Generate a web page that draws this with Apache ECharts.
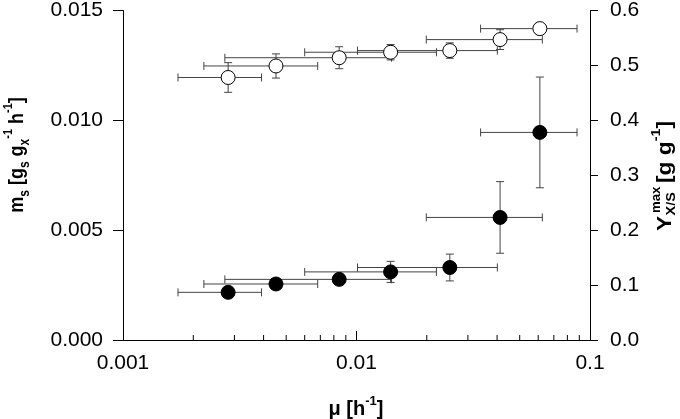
<!DOCTYPE html>
<html>
<head>
<meta charset="utf-8">
<script src="https://cdn.jsdelivr.net/npm/echarts@6/dist/echarts.min.js"></script>
<style>
  html, body { margin: 0; padding: 0; background: #fff; }
  #main { width: 680px; height: 419px; }
</style>
</head>
<body>
<div id="main"></div>
<script>
// growth rate mu [h-1] and its error (same for both series)
var mu    = [0.00282, 0.00452, 0.00843, 0.0140, 0.0251, 0.0412, 0.0610];
var muErr = [0.0011, 0.0023, 0.0057, 0.0080, 0.0150, 0.0213, 0.0270];
// maintenance coefficient m_s (left axis, filled circles)
var ms    = [0.00217, 0.00255, 0.00276, 0.00310, 0.00330, 0.00558, 0.00945];
var msErr = [0.00015, 0.00015, 0.00015, 0.00048, 0.00061, 0.00163, 0.00252];
// max yield Y_X/S (right axis, open circles)
var yxs    = [0.478, 0.499, 0.514, 0.524, 0.527, 0.547, 0.567];
var yxsErr = [0.027, 0.022, 0.020, 0.014, 0.014, 0.018, 0.005];
// minor ticks on the log axis
var minorTicks = [0.002, 0.003, 0.004, 0.005, 0.006, 0.007, 0.008, 0.009,
                  0.02, 0.03, 0.04, 0.05, 0.06, 0.07, 0.08, 0.09];

var FONT = '"Liberation Sans", Arial, sans-serif';
var BAR = '#444';

function errData(xs, xe, ys, ye) {
  return xs.map(function (x, i) { return [x, ys[i], xe[i], ye[i]]; });
}

function errItem(params, api) {
  var x = api.value(0), y = api.value(1), ex = api.value(2), ey = api.value(3);
  var c = api.coord([x, y]);
  var l = api.coord([x - ex, y]);
  var r = api.coord([x + ex, y]);
  var t = api.coord([x, y + ey]);
  var b = api.coord([x, y - ey]);
  var h = 4;
  var st = { stroke: BAR, lineWidth: 1 };
  function ln(x1, y1, x2, y2) {
    return { type: 'line', shape: { x1: x1, y1: y1, x2: x2, y2: y2 }, style: st };
  }
  return {
    type: 'group',
    children: [
      ln(l[0], c[1], r[0], c[1]),
      ln(l[0], c[1] - h, l[0], c[1] + h),
      ln(r[0], c[1] - h, r[0], c[1] + h),
      ln(c[0], t[1], c[0], b[1]),
      ln(c[0] - h, t[1], c[0] + h, t[1]),
      ln(c[0] - h, b[1], c[0] + h, b[1])
    ]
  };
}

var chart = echarts.init(document.getElementById('main'));

function rich(size) {
  return {
    b: { fontFamily: FONT, fontSize: size, fontWeight: 'bold', color: '#000', lineHeight: size + 8, verticalAlign: 'middle' },
    sub: { fontFamily: FONT, fontSize: size - 6, fontWeight: 'bold', color: '#000', lineHeight: size - 4, verticalAlign: 'bottom' },
    sup: { fontFamily: FONT, fontSize: size - 7, fontWeight: 'bold', color: '#000', lineHeight: size - 4, verticalAlign: 'top' }
  };
}

chart.setOption({
  animation: false,
  grid: { left: 123, right: 90, top: 10, bottom: 79 },
  xAxis: {
    type: 'log',
    logBase: 10,
    min: 0.001,
    max: 0.1,
    axisLine: { lineStyle: { color: '#000', width: 1 } },
    axisTick: { inside: true, length: 9, lineStyle: { color: '#000' } },
    axisLabel: {
      margin: 13, color: '#000', fontFamily: FONT, fontSize: 21,
      formatter: function (v) { return String(+v.toPrecision(1)); }
    },
    splitLine: { show: false }
  },
  yAxis: [
    {
      type: 'value', min: 0, max: 0.015, interval: 0.005,
      axisLine: { show: true, lineStyle: { color: '#000', width: 1 } },
      axisTick: { show: true, length: 10, lineStyle: { color: '#000' } },
      axisLabel: {
        margin: 20, color: '#000', fontFamily: FONT, fontSize: 21,
        formatter: function (v) { return v.toFixed(3); }
      },
      splitLine: { show: false }
    },
    {
      type: 'value', min: 0, max: 0.6, interval: 0.1, position: 'right',
      axisLine: { show: true, lineStyle: { color: '#000', width: 1 } },
      axisTick: { show: true, length: 8, lineStyle: { color: '#000' } },
      axisLabel: {
        margin: 20, color: '#000', fontFamily: FONT, fontSize: 21,
        formatter: function (v) { return v.toFixed(1); }
      },
      splitLine: { show: false }
    }
  ],
  graphic: [
    {
      type: 'text', x: 17, y: 155, rotation: Math.PI / 2, scaleY: 1.15,
      style: {
        text: '{b|m}{sub|s}{b| [g}{sub|s}{b| g}{sub|x}{sup|-1}{b| h}{sup|-1}{b|]}',
        rich: rich(18), align: 'center', verticalAlign: 'middle'
      }
    },
    {
      type: 'text', x: 356, y: 409,
      style: {
        text: '{b|\u03bc [h}{sup|-1}{b|]}',
        rich: rich(20), align: 'center', verticalAlign: 'middle'
      }
    },
    {
      type: 'group', x: 665, y: 231, rotation: Math.PI / 2, scaleX: 1.2, scaleY: 1.1,
      children: [
        { type: 'text', x: 0, y: 0,
          style: { text: 'Y', font: 'bold 19px ' + FONT, fill: '#000', align: 'left', verticalAlign: 'middle' } },
        { type: 'text', x: 15, y: -8,
          style: { text: 'max', font: 'bold 11px ' + FONT, fill: '#000', align: 'left', verticalAlign: 'middle' } },
        { type: 'text', x: 13, y: 6,
          style: { text: 'X/S', font: 'bold 12px ' + FONT, fill: '#000', align: 'left', verticalAlign: 'middle' } },
        { type: 'text', x: 40, y: 0,
          style: { text: '{b|[g g}{sup|-1}{b|]}', rich: rich(19), align: 'left', verticalAlign: 'middle' } }
      ]
    }
  ],
  series: [
    {
      type: 'custom', name: 'minor', coordinateSystem: 'cartesian2d',
      xAxisIndex: 0, yAxisIndex: 0,
      data: minorTicks.map(function (v) { return [v, 0]; }),
      encode: { x: 0, y: 1 },
      renderItem: function (params, api) {
        var p = api.coord([api.value(0), api.value(1)]);
        return { type: 'line', shape: { x1: p[0], y1: p[1], x2: p[0], y2: p[1] - 5 },
                 style: { stroke: '#000', lineWidth: 1 } };
      },
      silent: true, z: 1
    },
    {
      type: 'custom', name: 'msErr', yAxisIndex: 0,
      data: errData(mu, muErr, ms, msErr),
      encode: { x: 0, y: 1 },
      renderItem: errItem, silent: true, z: 2
    },
    {
      type: 'custom', name: 'yErr', yAxisIndex: 1,
      data: errData(mu, muErr, yxs, yxsErr),
      encode: { x: 0, y: 1 },
      renderItem: errItem, silent: true, z: 2
    },
    {
      type: 'scatter', name: 'ms', yAxisIndex: 0,
      data: mu.map(function (x, i) { return [x, ms[i]]; }),
      symbol: 'circle', symbolSize: 14,
      itemStyle: { color: '#000', borderColor: '#000', borderWidth: 1, opacity: 1 },
      z: 5
    },
    {
      type: 'scatter', name: 'yxs', yAxisIndex: 1,
      data: mu.map(function (x, i) { return [x, yxs[i]]; }),
      symbol: 'circle', symbolSize: 14,
      itemStyle: { color: '#fff', borderColor: '#000', borderWidth: 1, opacity: 1 },
      z: 5
    }
  ]
});
</script>
</body>
</html>
